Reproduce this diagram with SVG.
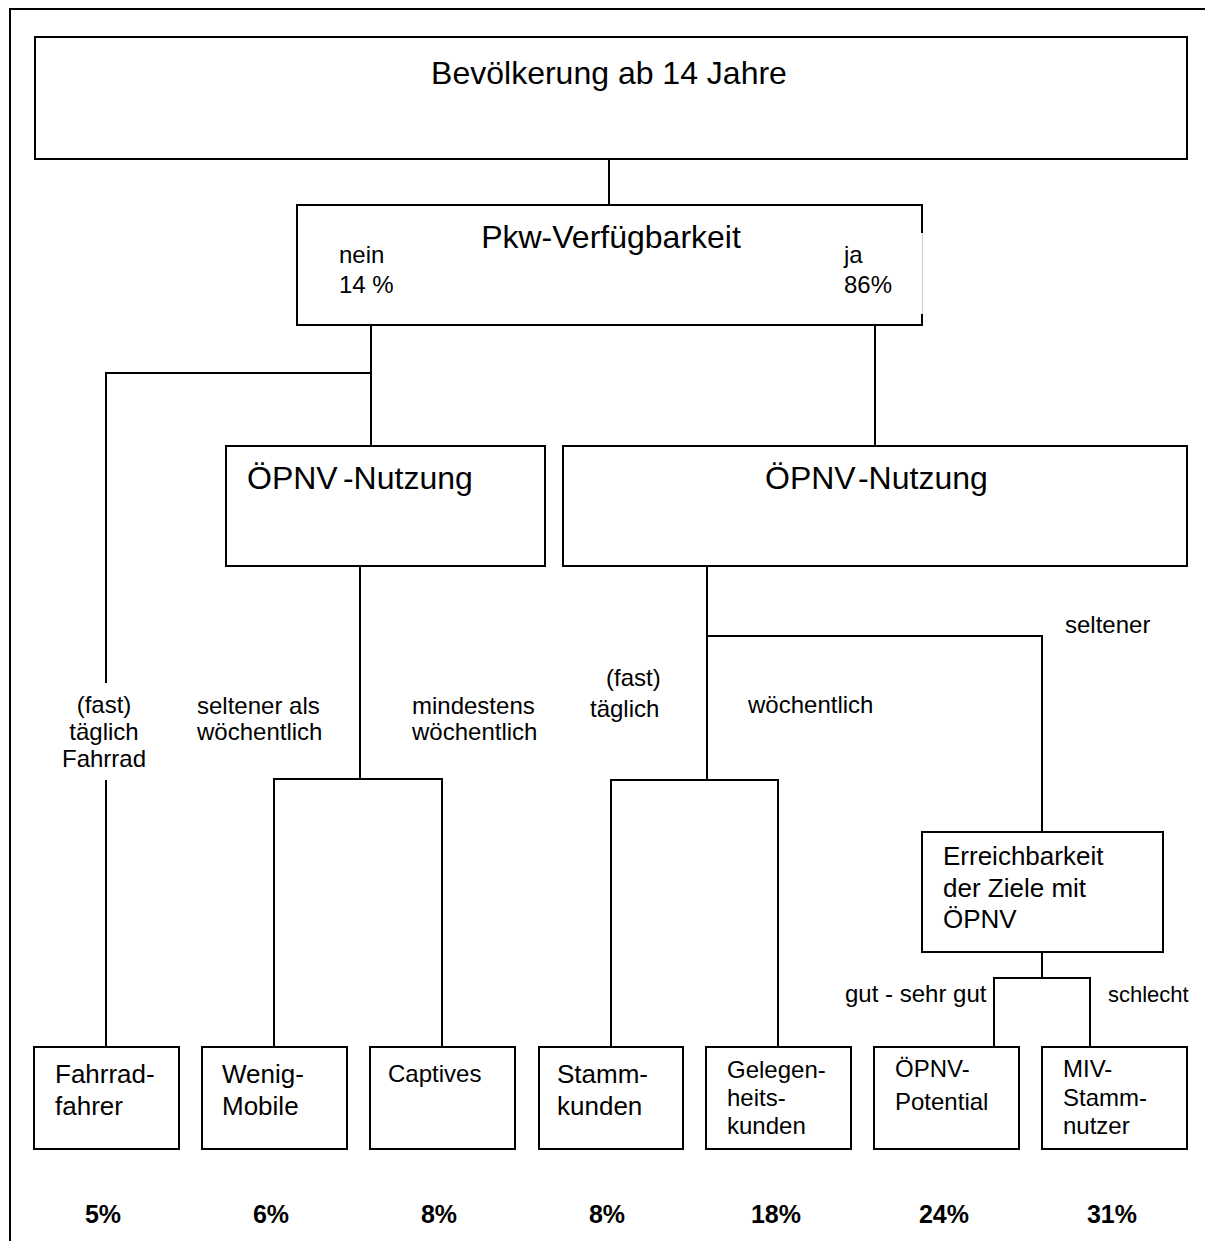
<svg xmlns="http://www.w3.org/2000/svg" width="1205" height="1241" viewBox="0 0 1205 1241">
<style>
text{font-family:"Liberation Sans",Arial,sans-serif;fill:#000}
.big{font-size:32px}
.lbl{font-size:24px}
.box{font-size:26px}
.sm{font-size:24px}
.pct{font-size:25px;font-weight:bold;text-anchor:middle}
.n rect{fill:#fff;stroke:#000;stroke-width:2}
#connectors line,#connectors path{fill:none;stroke:#000;stroke-width:2}
</style>
<rect width="1205" height="1241" fill="#fff"/>
<path d="M10,1241 V9 H1205" fill="none" stroke="#000" stroke-width="2"/>
<g id="connectors">
<line x1="609" y1="159" x2="609" y2="205"/>
<line x1="371" y1="325" x2="371" y2="446"/>
<path d="M371,373 H106 V683"/>
<line x1="106" y1="780" x2="106" y2="1047"/>
<line x1="875" y1="325" x2="875" y2="446"/>
<line x1="360" y1="566" x2="360" y2="779"/>
<path d="M274,1047 V779 H442 V1047"/>
<line x1="707" y1="566" x2="707" y2="780"/>
<path d="M707,636 H1042 V832"/>
<path d="M611,1047 V780 H778 V1047"/>
<line x1="1042" y1="952" x2="1042" y2="978"/>
<path d="M994,1047 V978 H1090 V1047"/>
</g>
<g id="n-bevoelkerung" class="n">
<rect x="35" y="37" width="1152" height="122"/>
<text class="big" x="609" y="84" text-anchor="middle">Bevölkerung ab 14 Jahre</text>
</g>
<g id="n-pkw">
<path d="M922,233 V314" fill="none" stroke="#999" stroke-width="1"/>
<path d="M922,233 V205 H297 V325 H922 V314" fill="#fff" stroke="#000" stroke-width="2"/>
<text class="big" x="611" y="248" text-anchor="middle">Pkw-Verfügbarkeit</text>
<text class="lbl" x="339" y="263">nein</text>
<text class="lbl" x="339" y="293">14 %</text>
<text class="lbl" x="844" y="263">ja</text>
<text class="lbl" x="844" y="293">86%</text>
</g>
<g id="n-oepnv-links" class="n">
<rect x="226" y="446" width="319" height="120"/>
<text class="big" x="247" y="489">ÖPNV<tspan dx="7">-Nutzung</tspan></text>
</g>
<g id="n-oepnv-rechts" class="n">
<rect x="563" y="446" width="624" height="120"/>
<text class="big" x="765" y="489">ÖPNV<tspan dx="4">-Nutzung</tspan></text>
</g>
<g id="labels">
<text class="lbl" text-anchor="middle"><tspan x="104" y="713">(fast)</tspan><tspan x="104" y="740">täglich</tspan><tspan x="104" y="767">Fahrrad</tspan></text>
<text class="lbl"><tspan x="197" y="714">seltener als</tspan><tspan x="197" y="740">wöchentlich</tspan></text>
<text class="lbl"><tspan x="412" y="714">mindestens</tspan><tspan x="412" y="740">wöchentlich</tspan></text>
<text class="lbl"><tspan x="606" y="686">(fast)</tspan><tspan x="590" y="717">täglich</tspan></text>
<text class="lbl" x="748" y="713">wöchentlich</text>
<text class="lbl" x="1065" y="633">seltener</text>
<text class="lbl" x="845" y="1002">gut - sehr gut</text>
<text class="lbl" x="1108" y="1002" style="font-size:22px">schlecht</text>
</g>
<g id="n-erreichbarkeit" class="n">
<rect x="922" y="832" width="241" height="120"/>
<text class="box"><tspan x="943" y="865">Erreichbarkeit</tspan><tspan x="943" y="897">der Ziele mit</tspan><tspan x="943" y="928">ÖPNV</tspan></text>
</g>
<g id="n-fahrradfahrer" class="n">
<rect x="34" y="1047" width="145" height="102"/>
<text class="box"><tspan x="55" y="1083">Fahrrad-</tspan><tspan x="55" y="1115">fahrer</tspan></text>
</g>
<g id="n-wenig-mobile" class="n">
<rect x="202" y="1047" width="145" height="102"/>
<text class="box"><tspan x="222" y="1083">Wenig-</tspan><tspan x="222" y="1115">Mobile</tspan></text>
</g>
<g id="n-captives" class="n">
<rect x="370" y="1047" width="145" height="102"/>
<text class="sm" x="388" y="1082">Captives</text>
</g>
<g id="n-stammkunden" class="n">
<rect x="539" y="1047" width="144" height="102"/>
<text class="box"><tspan x="557" y="1083">Stamm-</tspan><tspan x="557" y="1115">kunden</tspan></text>
</g>
<g id="n-gelegenheitskunden" class="n">
<rect x="706" y="1047" width="145" height="102"/>
<text class="sm"><tspan x="727" y="1078">Gelegen-</tspan><tspan x="727" y="1106">heits-</tspan><tspan x="727" y="1134">kunden</tspan></text>
</g>
<g id="n-oepnv-potential" class="n">
<rect x="874" y="1047" width="145" height="102"/>
<text class="sm"><tspan x="895" y="1077">ÖPNV-</tspan><tspan x="895" y="1110">Potential</tspan></text>
</g>
<g id="n-miv-stammnutzer" class="n">
<rect x="1042" y="1047" width="145" height="102"/>
<text class="sm"><tspan x="1063" y="1077">MIV-</tspan><tspan x="1063" y="1106">Stamm-</tspan><tspan x="1063" y="1134">nutzer</tspan></text>
</g>
<g id="percentages">
<text class="pct" x="103" y="1223">5%</text>
<text class="pct" x="271" y="1223">6%</text>
<text class="pct" x="439" y="1223">8%</text>
<text class="pct" x="607" y="1223">8%</text>
<text class="pct" x="776" y="1223">18%</text>
<text class="pct" x="944" y="1223">24%</text>
<text class="pct" x="1112" y="1223">31%</text>
</g>
</svg>
